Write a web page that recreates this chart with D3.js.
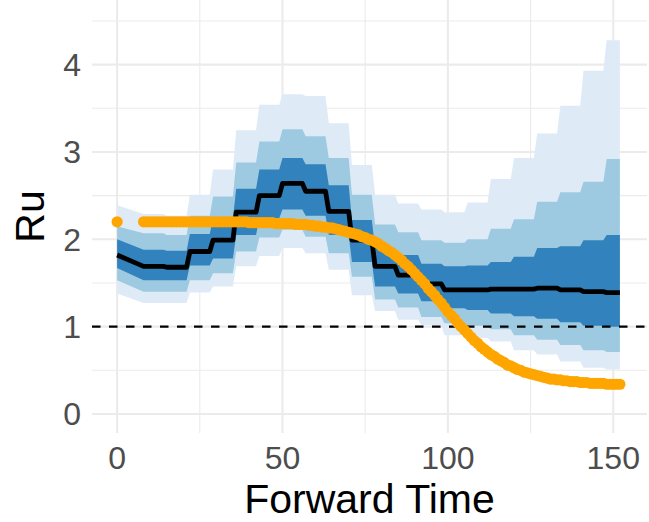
<!DOCTYPE html>
<html>
<head>
<meta charset="utf-8">
<script src="https://cdn.jsdelivr.net/npm/d3@7"></script>
<style>
  body { margin: 0; background: #fff; }
  svg { display: block; font-family: "Liberation Sans", Arial, sans-serif; }
</style>
</head>
<body>
<div id="chart"></div>
<script>
// blocks of the estimate (day ranges), value constant in each block
const blockStart = [0, 8, 15, 22, 29, 36, 43, 50, 57, 64, 71, 78, 85, 92, 99, 106, 113, 120, 127, 134, 141, 148];
const blockEnd   = [0, 14, 21, 28, 35, 42, 49, 56, 63, 70, 77, 84, 91, 98, 105, 112, 119, 126, 133, 140, 147, 152];

const hi95 = [2.39, 2.29, 2.27, 2.51, 2.80, 3.25, 3.54, 3.66, 3.64, 3.33, 2.85, 2.51, 2.41, 2.34, 2.31, 2.42, 2.69, 2.93, 3.21, 3.53, 3.93, 4.28];
const hi75 = [2.15, 2.07, 2.05, 2.27, 2.49, 2.88, 3.12, 3.26, 3.18, 2.93, 2.51, 2.17, 2.08, 1.99, 1.96, 2.00, 2.12, 2.23, 2.43, 2.54, 2.66, 2.92];
const hi50 = [2.00, 1.88, 1.87, 2.06, 2.24, 2.58, 2.80, 2.93, 2.86, 2.62, 2.22, 1.90, 1.82, 1.72, 1.69, 1.70, 1.74, 1.80, 1.90, 1.92, 1.99, 2.05];
const median = [1.82, 1.69, 1.68, 1.86, 1.99, 2.31, 2.50, 2.64, 2.55, 2.32, 1.99, 1.69, 1.59, 1.49, 1.42, 1.42, 1.43, 1.43, 1.44, 1.42, 1.40, 1.39];
const lo50 = [1.67, 1.53, 1.53, 1.70, 1.78, 2.05, 2.24, 2.34, 2.27, 2.05, 1.74, 1.46, 1.38, 1.29, 1.21, 1.19, 1.15, 1.12, 1.09, 1.05, 1.01, 1.00];
const lo75 = [1.53, 1.40, 1.40, 1.53, 1.61, 1.86, 2.02, 2.11, 2.03, 1.84, 1.57, 1.31, 1.22, 1.11, 1.04, 1.01, 0.97, 0.90, 0.85, 0.79, 0.73, 0.71];
const lo95 = [1.38, 1.27, 1.27, 1.39, 1.46, 1.69, 1.81, 1.90, 1.84, 1.65, 1.36, 1.18, 1.08, 1.02, 0.90, 0.87, 0.83, 0.73, 0.68, 0.60, 0.53, 0.51];

// true Ru: first point at day 0, then daily from day 8 to 152
const trueDay0 = 0;
const trueVal0 = 2.20;
const trueStart = 8;
const trueRu = [
  2.20, 2.20, 2.20, 2.20, 2.20, 2.20, 2.20, 2.20, 2.20, 2.20, 2.20, 2.20, 2.20, 2.20, 2.20, 2.20,
  2.20, 2.20, 2.20, 2.20, 2.20, 2.20, 2.20, 2.20, 2.20, 2.20, 2.20, 2.20, 2.20, 2.20, 2.20, 2.20,
  2.19, 2.19, 2.19, 2.19, 2.19, 2.19, 2.19, 2.19,
  2.18, 2.18, 2.18, 2.18, 2.18, 2.18,
  2.17, 2.17, 2.17, 2.17,
  2.16, 2.16, 2.15, 2.15, 2.14, 2.14, 2.13, 2.13, 2.12, 2.11, 2.10, 2.09, 2.08, 2.07, 2.06, 2.05,
  2.03, 2.02, 2.00, 1.99, 1.97, 1.95, 1.92, 1.90, 1.87, 1.85, 1.82, 1.79, 1.76, 1.72, 1.69, 1.65,
  1.61, 1.57, 1.53, 1.49, 1.44, 1.40, 1.36, 1.31, 1.27, 1.22, 1.17, 1.13, 1.09, 1.04, 1.00, 0.96,
  0.92, 0.88, 0.84, 0.81, 0.77, 0.74, 0.71, 0.68, 0.66, 0.63, 0.61, 0.59, 0.56, 0.55, 0.53, 0.51,
  0.50, 0.48, 0.47, 0.46, 0.45, 0.44, 0.43, 0.42, 0.41, 0.40, 0.40, 0.39, 0.39, 0.38, 0.38, 0.37,
  0.37, 0.37, 0.36, 0.36, 0.36, 0.35, 0.35, 0.35, 0.35, 0.35, 0.34, 0.34, 0.34, 0.34, 0.34
];

const xMajor = [0, 50, 100, 150];
const xMinor = [25, 75, 125];
const yMajor = [0, 1, 2, 3, 4];
const yMinor = [0.5, 1.5, 2.5, 3.5, 4.5];
const threshold = 1;

const W = 649, H = 522;
const panel = { left: 92, right: 647, top: 0, bottom: 433 };

const svg = d3.select("#chart").append("svg")
  .attr("width", W).attr("height", H);

const x = d3.scaleLinear().domain([-7.6, 160.2]).range([panel.left, panel.right]);
const y = d3.scaleLinear().domain([-0.218, 4.74]).range([panel.bottom, panel.top]);

// grid
const grid = svg.append("g");
grid.selectAll(".vmin").data(xMinor).enter().append("line")
  .attr("x1", d => x(d)).attr("x2", d => x(d))
  .attr("y1", panel.top).attr("y2", panel.bottom)
  .attr("stroke", "#ebebeb").attr("stroke-width", 1.1);
grid.selectAll(".hmin").data(yMinor).enter().append("line")
  .attr("y1", d => y(d)).attr("y2", d => y(d))
  .attr("x1", panel.left).attr("x2", panel.right)
  .attr("stroke", "#ebebeb").attr("stroke-width", 1.1);
grid.selectAll(".vmaj").data(xMajor).enter().append("line")
  .attr("x1", d => x(d)).attr("x2", d => x(d))
  .attr("y1", panel.top).attr("y2", panel.bottom)
  .attr("stroke", "#ebebeb").attr("stroke-width", 2.1);
grid.selectAll(".hmaj").data(yMajor).enter().append("line")
  .attr("y1", d => y(d)).attr("y2", d => y(d))
  .attr("x1", panel.left).attr("x2", panel.right)
  .attr("stroke", "#ebebeb").attr("stroke-width", 2.1);

// step data: each block gives two points (start, end)
const pts = [];
blockStart.forEach((s, i) => {
  const row = { hi95: hi95[i], hi75: hi75[i], hi50: hi50[i], med: median[i], lo50: lo50[i], lo75: lo75[i], lo95: lo95[i] };
  pts.push(Object.assign({ t: s }, row));
  if (blockEnd[i] !== s) pts.push(Object.assign({ t: blockEnd[i] }, row));
});

const bands = [
  { lo: "lo95", hi: "hi95", fill: "#deebf7" },
  { lo: "lo75", hi: "hi75", fill: "#9ecae1" },
  { lo: "lo50", hi: "hi50", fill: "#3182bd" }
];
bands.forEach(b => {
  svg.append("path")
    .datum(pts)
    .attr("d", d3.area().x(d => x(d.t)).y0(d => y(d[b.lo])).y1(d => y(d[b.hi])))
    .attr("fill", b.fill);
});

// threshold
svg.append("line")
  .attr("x1", panel.left).attr("x2", panel.right)
  .attr("y1", y(threshold)).attr("y2", y(threshold))
  .attr("stroke", "#000").attr("stroke-width", 2.2)
  .attr("stroke-dasharray", "8.5,8.5");

// median
svg.append("path")
  .datum(pts)
  .attr("d", d3.line().x(d => x(d.t)).y(d => y(d.med)))
  .attr("fill", "none").attr("stroke", "#000").attr("stroke-width", 4.8)
  .attr("stroke-linejoin", "round");

// true Ru points
const truePts = [{ t: trueDay0, v: trueVal0 }].concat(trueRu.map((v, i) => ({ t: trueStart + i, v })));
svg.selectAll(".pt").data(truePts).enter().append("circle")
  .attr("cx", d => x(d.t)).attr("cy", d => y(d.v)).attr("r", 5.6)
  .attr("fill", "#ffa500");

// axis labels
svg.selectAll(".xl").data(xMajor).enter().append("text")
  .attr("x", d => x(d)).attr("y", 468.5)
  .attr("text-anchor", "middle")
  .attr("font-size", 32).attr("fill", "#4d4d4d")
  .text(d => d);
svg.selectAll(".yl").data(yMajor).enter().append("text")
  .attr("x", 81).attr("y", d => y(d) + 11.5)
  .attr("text-anchor", "end")
  .attr("font-size", 32).attr("fill", "#4d4d4d")
  .text(d => d);

svg.append("text")
  .attr("x", (panel.left + panel.right) / 2).attr("y", 513)
  .attr("text-anchor", "middle")
  .attr("font-size", 41).attr("fill", "#000")
  .text("Forward Time");
svg.append("text")
  .attr("transform", `translate(44,${(panel.top + panel.bottom) / 2}) rotate(-90)`)
  .attr("text-anchor", "middle")
  .attr("font-size", 41).attr("fill", "#000")
  .text("Ru");
</script>
</body>
</html>
